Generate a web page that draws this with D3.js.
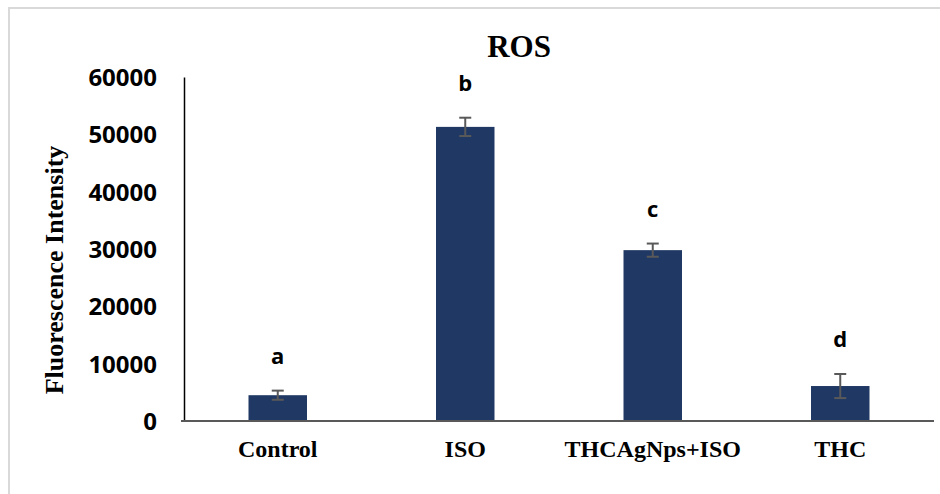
<!DOCTYPE html>
<html>
<head>
<meta charset="utf-8">
<script src="https://cdn.jsdelivr.net/npm/d3@7"></script>
<style>
  html, body { margin: 0; padding: 0; background: #fff; }
  svg { display: block; }
</style>
</head>
<body>
<svg id="chart" width="940" height="494"></svg>
<script>
// ROS fluorescence intensity per treatment group
const categories = ["Control", "ISO", "THCAgNps+ISO", "THC"];
const means = [4500, 51300, 29800, 6100];
const errors = [800, 1600, 1150, 2100];
const letters = ["a", "b", "c", "d"];
const yTicks = [0, 10000, 20000, 30000, 40000, 50000, 60000];

const svg = d3.select("#chart");
const W = 940, H = 494;
const margin = { left: 184, right: 6, top: 77, bottom: 73 };

// light frame around the chart area
svg.append("rect")
  .attr("x", 9).attr("y", 8)
  .attr("width", W + 10).attr("height", H + 10)
  .attr("fill", "none").attr("stroke", "#d9d9d9").attr("stroke-width", 2);

const x = d3.scaleBand()
  .domain(categories)
  .range([margin.left, W - margin.right])
  .paddingInner(0.688).paddingOuter(0.344);

const y = d3.scaleLinear()
  .domain([0, 60000])
  .range([H - margin.bottom, margin.top]);

// y axis
const yAxis = svg.append("g")
  .attr("transform", `translate(${margin.left},0)`)
  .call(d3.axisLeft(y).tickValues(yTicks).tickSize(0).tickPadding(27).tickFormat(d3.format("d")));
yAxis.select(".domain").attr("stroke", "#000").attr("stroke-width", 1.5);
yAxis.selectAll("text")
  .attr("font-family", "'Open Sans', 'Liberation Sans', sans-serif")
  .attr("font-weight", "bold").attr("font-size", 24).attr("fill", "#000")
  .attr("dy", "0.36em");

// bars
svg.append("g").selectAll("rect")
  .data(categories)
  .join("rect")
  .attr("x", d => x(d))
  .attr("y", (d, i) => y(means[i]))
  .attr("width", x.bandwidth())
  .attr("height", (d, i) => y(0) - y(means[i]))
  .attr("fill", "#203864");

// error bars
const eb = svg.append("g").attr("stroke", "#595959").attr("stroke-width", 2);
categories.forEach((c, i) => {
  const cx = x(c) + x.bandwidth() / 2;
  const hi = y(means[i] + errors[i]), lo = y(means[i] - errors[i]);
  eb.append("line").attr("x1", cx).attr("x2", cx).attr("y1", hi).attr("y2", lo);
  eb.append("line").attr("x1", cx - 6).attr("x2", cx + 6).attr("y1", hi).attr("y2", hi);
  eb.append("line").attr("x1", cx - 6).attr("x2", cx + 6).attr("y1", lo).attr("y2", lo);
});

// x axis
const xAxis = svg.append("g")
  .attr("transform", `translate(0,${y(0)})`)
  .call(d3.axisBottom(x).tickSize(0).tickPadding(19));
xAxis.select(".domain").attr("stroke", "#595959").attr("stroke-width", 2)
  .attr("d", `M${margin.left - 3},0H${W - margin.right}`);
xAxis.selectAll("text")
  .attr("font-family", "'Liberation Serif', 'Times New Roman', serif")
  .attr("font-weight", "bold").attr("font-size", 24).attr("fill", "#000");

// significance letters
svg.append("g").selectAll("text")
  .data(categories)
  .join("text")
  .attr("x", d => x(d) + x.bandwidth() / 2)
  .attr("y", (d, i) => y(means[i] + errors[i]) - 27)
  .attr("text-anchor", "middle")
  .attr("font-family", "'Open Sans', 'Liberation Sans', sans-serif")
  .attr("font-weight", "bold").attr("font-size", 22).attr("fill", "#000")
  .text((d, i) => letters[i]);

// title
svg.append("text")
  .attr("x", 519).attr("y", 57)
  .attr("text-anchor", "middle")
  .attr("font-family", "'Liberation Serif', 'Times New Roman', serif")
  .attr("font-weight", "bold").attr("font-size", 31)
  .text("ROS");

// y axis label
svg.append("text")
  .attr("transform", "translate(63,270) rotate(-90)")
  .attr("text-anchor", "middle")
  .attr("font-family", "'Liberation Serif', 'Times New Roman', serif")
  .attr("font-weight", "bold").attr("font-size", 26)
  .text("Fluorescence Intensity");
</script>
</body>
</html>
